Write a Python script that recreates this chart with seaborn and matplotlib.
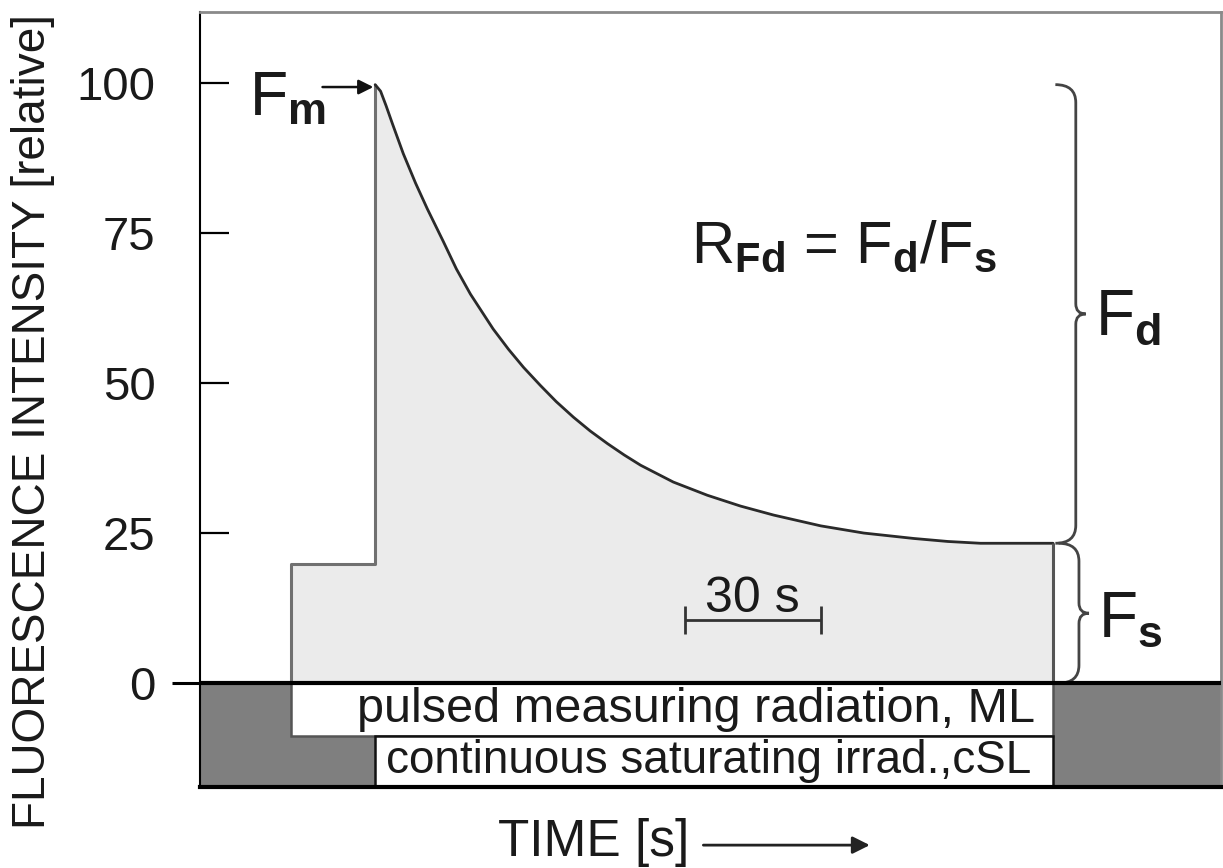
import matplotlib
matplotlib.use("Agg")
import matplotlib.pyplot as plt
import seaborn as sns
from matplotlib.patches import Rectangle, PathPatch
from matplotlib.path import Path

# fluorescence induction trace (time in s, relative intensity)
ml_on = 20.0        # pulsed measuring light switched on
sl_on = 38.6        # continuous saturating light switched on
light_off = 188.0   # all light off
f0_level = 19.8
decay_time = [38.6, 39.8, 41.0, 42.4, 44.8, 47.5, 50.1, 53.6, 56.5, 59.6, 64.6, 68.0,
              71.3, 75.0, 78.5, 82.3, 86.0, 89.8, 93.5, 97.1, 104.3, 111.8, 119.1,
              126.4, 136.8, 146.3, 157.3, 164.8, 172.0, 188.0]
decay_fluo = [99.7, 98.6, 96.2, 93.2, 88.2, 83.3, 79.0, 73.6, 69.0, 64.8, 59.0, 55.6,
              52.6, 49.6, 46.9, 44.3, 42.0, 39.9, 38.0, 36.3, 33.5, 31.3, 29.5,
              28.0, 26.2, 25.0, 24.1, 23.6, 23.3, 23.3]
fm_level = decay_fluo[0]
fs_level = decay_fluo[-1]

y_ticks = [25, 50, 75, 100]
scale_bar_start = 106.8
scale_bar_len = 30

x_max = 225
y_min, y_max = -17.3, 111.8

plt.rcParams["mathtext.fontset"] = "custom"
plt.rcParams["mathtext.rm"] = "Liberation Sans"
plt.rcParams["mathtext.bf"] = "Liberation Sans:bold"
plt.rcParams["mathtext.it"] = "Liberation Sans:italic"
plt.rcParams["mathtext.default"] = "regular"


def brace(ax, x, y0, y1, hook=4.5, tip=2.2, r=3.0, r2=1.7, **kw):
    # curly brace opening to the left, spanning y0..y1 at position x
    ym = (y0 + y1) / 2
    verts = [(x - hook, y1), (x, y1), (x, y1 - r),
             (x, ym + r2), (x, ym), (x + tip, ym),
             (x, ym), (x, ym - r2),
             (x, y0 + r), (x, y0), (x - hook, y0)]
    codes = [Path.MOVETO, Path.CURVE3, Path.CURVE3,
             Path.LINETO, Path.CURVE3, Path.CURVE3,
             Path.CURVE3, Path.CURVE3,
             Path.LINETO, Path.CURVE3, Path.CURVE3]
    ax.add_patch(PathPatch(Path(verts, codes), fill=False, **kw))


sns.set_theme(style="ticks")
plt.rcParams["font.family"] = ["Liberation Sans", "DejaVu Sans"]

fig = plt.figure(figsize=(12.23, 8.68), dpi=100)
ax = fig.add_axes([200 / 1223, 81 / 868, 1021 / 1223, 775 / 868])

# light panel below zero
ax.axhspan(y_min, 0, color="#7f7f7f", zorder=0.5, lw=0)
ax.add_patch(Rectangle((ml_on, -8.8), light_off - ml_on, 8.8, facecolor="white",
                       edgecolor="#555555", lw=1.8, zorder=1))
ax.add_patch(Rectangle((sl_on, y_min), light_off - sl_on, y_min * -1 - 8.8,
                       facecolor="white", edgecolor="#111111", lw=1.8, zorder=1))
ax.text((ml_on + light_off) / 2 + 5.2, -4.4, "pulsed measuring radiation, ML",
        fontsize=35, ha="center", va="center", color="#1a1a1a", zorder=3)
ax.text((sl_on + light_off) / 2 - 1.2, -13.0, "continuous saturating irrad.,cSL",
        fontsize=33, ha="center", va="center", color="#1a1a1a", zorder=3)

# fluorescence trace
step_time = [ml_on, ml_on, sl_on, sl_on]
step_fluo = [0, f0_level, f0_level, fm_level]
ax.fill(step_time + decay_time + [light_off], step_fluo + decay_fluo + [0],
        color="#ebebeb", lw=0, zorder=1)
sns.lineplot(x=step_time, y=step_fluo, sort=False, estimator=None,
             color="#707070", lw=2.2, ax=ax, zorder=2)
sns.lineplot(x=decay_time, y=decay_fluo, estimator=None,
             color="#2a2a2a", lw=2, ax=ax, zorder=2,
             solid_joinstyle="round", solid_capstyle="round")
ax.vlines(light_off, 0, fs_level, color="#555555", lw=2.2, zorder=2)
ax.axhline(0, color="black", lw=3, zorder=5)

# annotations
ax.annotate("", xy=(sl_on - 0.4, fm_level - 0.4), xytext=(27, fm_level - 0.4),
            arrowprops=dict(arrowstyle="-|>", color="#111111", lw=1.8,
                            mutation_scale=22, shrinkA=0, shrinkB=0))
ax.text(10.8, 94.7, r"F$_\mathbf{m}$", fontsize=45, ha="left", va="baseline",
        color="#1a1a1a")
ax.text(108.3, 70, r"R$_\mathbf{Fd}$ = F$_\mathbf{d}$/F$_\mathbf{s}$", fontsize=43,
        ha="left", va="baseline", color="#1a1a1a")
ax.text(197.2, 58, r"F$_\mathbf{d}$", fontsize=46, ha="left", va="baseline",
        color="#1a1a1a")
ax.text(198.0, 7.7, r"F$_\mathbf{s}$", fontsize=46, ha="left", va="baseline",
        color="#1a1a1a")
brace(ax, 193.0, fs_level, fm_level, edgecolor="#444444", lw=2, zorder=3)
brace(ax, 193.7, 0, fs_level, edgecolor="#444444", lw=2, zorder=3)

# 30 s scale bar
ax.errorbar(scale_bar_start + scale_bar_len / 2, 10.5, xerr=scale_bar_len / 2,
            color="#333333", lw=2, capsize=10, capthick=2, zorder=3)
ax.text(scale_bar_start + scale_bar_len / 2, 11.9, "30 s", fontsize=36,
        ha="center", va="baseline", color="#1a1a1a")

# axes
ax.set_xlim(0, x_max)
ax.set_ylim(y_min, y_max)
ax.set_xticks([])
ax.set_yticks(y_ticks)
ax.set_yticks([0], labels=["0"], minor=True)
ax.tick_params(axis="y", which="major", direction="in", length=21, width=1.6,
               pad=32, labelsize=34, color="black", labelcolor="#1a1a1a", left=True)
ax.tick_params(axis="y", which="minor", direction="out", length=20, width=2.2,
               pad=12, labelsize=34, color="black", labelcolor="#1a1a1a", left=True)
for side in ["top", "right"]:
    ax.spines[side].set_color("#8a8a8a")
    ax.spines[side].set_linewidth(2)
ax.spines["left"].set_color("black")
ax.spines["left"].set_linewidth(1.5)
ax.spines["bottom"].set_color("black")
ax.spines["bottom"].set_linewidth(3)

ax.set_ylabel("FLUORESCENCE INTENSITY [relative]", fontsize=33, color="#1a1a1a")
ax.yaxis.set_label_coords(-0.142, 0.472)
ax.set_xlabel("TIME [s]", fontsize=37, color="#1a1a1a")
ax.xaxis.set_label_coords(0.386, -0.040)
ax.annotate("", xy=(0.656, -0.075), xytext=(0.493, -0.075), xycoords="axes fraction",
            arrowprops=dict(arrowstyle="-|>", color="#222222", lw=2,
                            mutation_scale=26, shrinkA=0, shrinkB=0),
            annotation_clip=False)

fig.savefig("out.png", dpi=100, facecolor="white")
